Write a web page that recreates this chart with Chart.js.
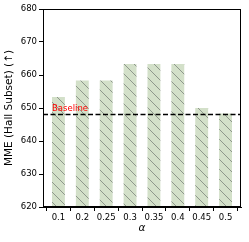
<!DOCTYPE html>
<html><head><meta charset="utf-8">
<script src="https://cdn.jsdelivr.net/npm/chart.js@4"></script>
<style>html,body{margin:0;padding:0;background:#fff}#w{width:249px;height:242px}</style>
</head><body><div id="w"><canvas id="c" width="249" height="242"></canvas></div>
<script>
const categories = ["0.1","0.2","0.25","0.3","0.35","0.4","0.45","0.5"];
const mmeScores = [653.33, 658.33, 658.33, 663.33, 663.33, 663.33, 650.0, 648.33];
const baselineValue = 648;
const yTicks = [620, 630, 640, 650, 660, 670, 680];

function hatch(){
  const s = 10, c = document.createElement('canvas');
  c.width = s; c.height = s;
  const g = c.getContext('2d');
  g.fillStyle = '#d3e0c9'; g.fillRect(0,0,s,s);
  g.strokeStyle = '#8e978b'; g.lineWidth = 1;
  g.beginPath();
  g.moveTo(-1,-1); g.lineTo(s+1,s+1);
  g.moveTo(-1,s-1); g.lineTo(1,s+1);
  g.moveTo(s-1,-1); g.lineTo(s+1,1);
  g.stroke();
  return g.createPattern(c,'repeat');
}
const F = "'DejaVu Sans', sans-serif";
const deco = {
  id:'deco',
  afterDatasetsDraw(ch){
    const {ctx, chartArea:a, scales:{y}} = ch;
    const py = y.getPixelForValue(baselineValue);
    ctx.save();
    ctx.strokeStyle = '#000'; ctx.lineWidth = 1.5; ctx.setLineDash([5,2.5]);
    ctx.beginPath(); ctx.moveTo(a.left, py); ctx.lineTo(a.right, py); ctx.stroke();
    ctx.setLineDash([]);
    ctx.fillStyle = 'red'; ctx.font = '8.5px ' + F; ctx.textBaseline = 'bottom';
    ctx.fillText('Baseline', a.left + 9, py - 1.5);
    ctx.strokeStyle = '#000'; ctx.lineWidth = 1;
    ctx.strokeRect(a.left + 0.5, a.top + 0.5, a.right - a.left - 1, a.bottom - a.top - 1);
    ctx.restore();
  }
};
new Chart(document.getElementById('c'), {
  type:'bar',
  data:{datasets:[{data:mmeScores.map((v,i)=>({x:i, y:v})), backgroundColor:hatch(), borderWidth:0,
    categoryPercentage:1, barPercentage:0.54}]},
  options:{
    responsive:false, animation:false, devicePixelRatio:1,
    layout:{padding:{top:9, right:8, left:3, bottom:7}},
    plugins:{legend:{display:false}, tooltip:{enabled:false}},
    scales:{
      x:{type:'linear', min:-0.647, max:categories.length - 1 + 0.647, offset:false,
        afterBuildTicks(s){ s.ticks = categories.map((c,i)=>({value:i})); },
        grid:{display:true, drawOnChartArea:false, tickLength:4, color:'#000'},
        border:{color:'#000'},
        ticks:{color:'#000', font:{family:F, size:8.5}, padding:2, maxRotation:0, autoSkip:false,
          callback:(v)=>categories[v]},
        title:{display:true, text:'α', color:'#000', font:{family:F, size:10.5, style:'italic'}, padding:{top:0,bottom:0}},
        afterFit(s){ s.height = 28; }
      },
      y:{min:620, max:680, afterBuildTicks(s){ s.ticks = yTicks.map(v=>({value:v})); },
        grid:{display:true, drawOnChartArea:false, tickLength:4, color:'#000'},
        border:{color:'#000'},
        ticks:{color:'#000', font:{family:F, size:8.5}, padding:2},
        title:{display:true, text:'MME (Hall Subset) (↑)', color:'#000', font:{family:F, size:10.5}, padding:{top:0,bottom:2}},
        afterFit(s){ s.width = 40; }
      }
    }
  },
  plugins:[deco]
});
</script></body></html>
